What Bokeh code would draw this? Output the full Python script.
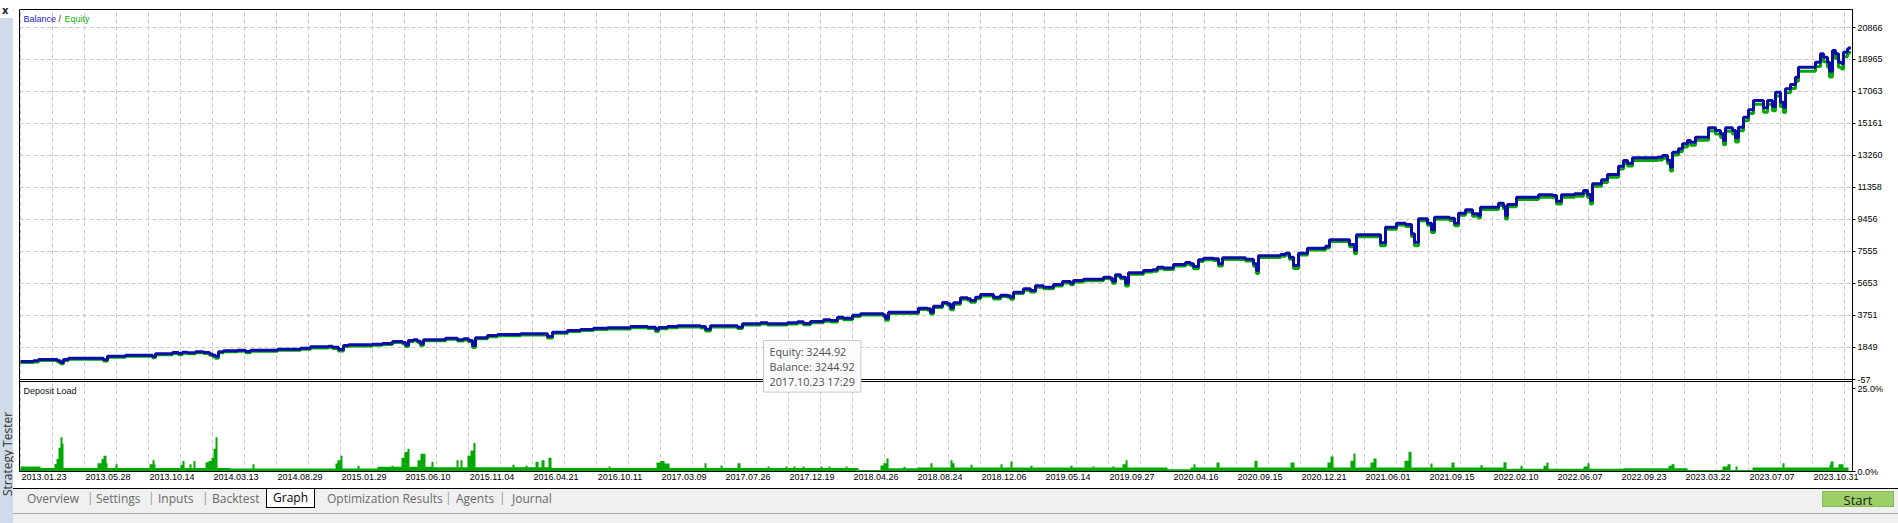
from bokeh.plotting import figure
from bokeh.models import Range1d, FixedTicker, Span, Label, Div
from bokeh.layouts import column, row
from bokeh.embed import file_html
from bokeh.resources import INLINE

# ---------------- data ----------------
date_labels = ["2013.01.23", "2013.05.28", "2013.10.14", "2014.03.13", "2014.08.29",
               "2015.01.29", "2015.06.10", "2015.11.04", "2016.04.21", "2016.10.11",
               "2017.03.09", "2017.07.26", "2017.12.19", "2018.04.26", "2018.08.24",
               "2018.12.06", "2019.05.14", "2019.09.27", "2020.04.16", "2020.09.15",
               "2020.12.21", "2021.06.01", "2021.09.15", "2022.02.10", "2022.06.07",
               "2022.09.23", "2023.03.22", "2023.07.07", "2023.10.31"]

# position along the tester timeline, in units of date-label intervals
t = [0.000, 0.203, 0.281, 0.578, 0.625, 0.672, 0.750, 1.250, 1.297, 1.359,
     1.594, 1.641, 2.031, 2.063, 2.109, 2.375, 2.469, 2.531, 2.609, 2.734,
     2.859, 2.953, 3.000, 3.047, 3.094, 3.172, 3.391, 3.516, 3.594, 3.984,
     4.016, 4.375, 4.531, 4.813, 4.875, 4.969, 5.047, 5.125, 5.500, 5.656,
     5.813, 5.969, 6.016, 6.063, 6.141, 6.203, 6.250, 6.297, 6.641, 6.828,
     6.922, 7.000, 7.063, 7.109, 7.297, 7.453, 7.813, 8.078, 8.234, 8.313,
     8.547, 8.750, 8.953, 9.172, 9.531, 9.797, 9.922, 9.969, 10.109, 10.266,
     10.625, 10.703, 10.781, 11.203, 11.281, 11.563, 11.672, 11.984, 12.141, 12.234,
     12.344, 12.547, 12.656, 12.766, 12.859, 13.000, 13.125, 13.438, 13.484, 13.516,
     13.563, 13.953, 14.031, 14.172, 14.219, 14.266, 14.406, 14.484, 14.531, 14.578,
     14.688, 14.797, 14.844, 14.922, 15.000, 15.156, 15.203, 15.313, 15.422, 15.469,
     15.516, 15.672, 15.781, 15.859, 15.984, 16.141, 16.281, 16.406, 16.453, 16.609,
     16.828, 16.922, 17.031, 17.063, 17.109, 17.188, 17.266, 17.313, 17.500, 17.547,
     17.688, 17.766, 17.859, 18.016, 18.203, 18.281, 18.328, 18.406, 18.484, 18.641,
     18.719, 18.781, 19.141, 19.266, 19.313, 19.344, 19.688, 19.766, 19.828, 19.891,
     19.969, 20.109, 20.391, 20.453, 20.656, 20.766, 20.844, 20.875, 21.156, 21.250,
     21.328, 21.500, 21.641, 21.734, 21.781, 21.844, 21.984, 22.047, 22.094, 22.328,
     22.406, 22.469, 22.578, 22.688, 22.781, 22.813, 23.094, 23.172, 23.203, 23.234,
     23.375, 23.719, 23.938, 24.000, 24.078, 24.281, 24.422, 24.484, 24.531, 24.563,
     24.703, 24.797, 24.891, 24.969, 25.047, 25.109, 25.188, 25.578, 25.656, 25.734,
     25.781, 25.813, 25.906, 25.969, 26.047, 26.094, 26.172, 26.297, 26.375, 26.484,
     26.563, 26.609, 26.641, 26.750, 26.797, 26.844, 26.922, 27.000, 27.078, 27.156,
     27.234, 27.297, 27.375, 27.422, 27.500, 27.547, 27.578, 27.656, 27.734, 27.781,
     28.016, 28.047, 28.125, 28.172, 28.234, 28.266, 28.313, 28.359, 28.406, 28.453,
     28.484, 28.547, 28.578]

balance = [1013, 1055, 1132, 1055, 953, 1132, 1209, 1209, 1114, 1328,
           1328, 1387, 1387, 1310, 1471, 1548, 1488, 1566, 1530, 1589,
           1548, 1459, 1387, 1310, 1589, 1649, 1685, 1607, 1685, 1685,
           1744, 1803, 1887, 1922, 1863, 1726, 1964, 2006, 2041, 2083,
           2202, 2143, 1994, 2261, 2303, 2220, 2065, 2303, 2398, 2303,
           2362, 2261, 1964, 2422, 2558, 2618, 2659, 2659, 2499, 2754,
           2856, 2915, 2992, 3016, 3093, 3053, 2897, 3034, 3093, 3135,
           3093, 2933, 3135, 3053, 3254, 3313, 3254, 3313, 3373, 3272,
           3391, 3492, 3450, 3646, 3587, 3765, 3848, 3848, 3777, 3587,
           3943, 3943, 4181, 4145, 3943, 4300, 4520, 4443, 4205, 4502,
           4799, 4740, 4639, 4835, 4995, 4995, 4835, 4954, 4919, 4835,
           5132, 5334, 5233, 5513, 5429, 5590, 5768, 5667, 5828, 5905,
           5905, 6024, 5964, 5786, 6166, 6024, 5667, 6285, 6285, 6422,
           6464, 6618, 6578, 6779, 6897, 6818, 6660, 7058, 7153, 7114,
           6820, 7177, 7094, 6820, 6422, 7296, 7373, 7450, 7213, 6719,
           7450, 7748, 7866, 8247, 8247, 7967, 7611, 8544, 8544, 8068,
           8996, 9234, 9156, 8604, 8104, 9495, 9234, 8841, 9590, 9531,
           9234, 9828, 10030, 9792, 9691, 10184, 10422, 10226, 9691, 10345,
           10779, 10922, 10880, 10541, 10922, 10981, 11177, 10939, 10583, 11576,
           11814, 12128, 12128, 12622, 12960, 12800, 13121, 13157, 13258, 12960,
           12562, 13454, 13656, 13953, 14149, 14050, 14345, 14345, 14904, 14744,
           14547, 14149, 14904, 14744, 14310, 14940, 15534, 15974, 16527, 16527,
           16093, 16527, 16170, 17020, 16426, 16128, 17222, 17478, 17912, 18506,
           18506, 18803, 19303, 19100, 18803, 18269, 19499, 19303, 18803, 18708,
           19398, 19600, 19737]

equity = [950, 990, 1070, 990, 880, 1070, 1150, 1150, 1040, 1270,
          1270, 1330, 1330, 1230, 1410, 1490, 1420, 1510, 1470, 1530,
          1490, 1390, 1310, 1210, 1530, 1590, 1620, 1540, 1620, 1620,
          1680, 1740, 1820, 1860, 1790, 1640, 1900, 1940, 1980, 2020,
          2140, 2070, 1910, 2200, 2240, 2150, 1970, 2240, 2330, 2230,
          2290, 2180, 1850, 2360, 2490, 2550, 2590, 2590, 2410, 2690,
          2790, 2850, 2920, 2950, 3020, 2980, 2800, 2960, 3020, 3060,
          3010, 2830, 3060, 2970, 3180, 3240, 3180, 3240, 3300, 3190,
          3310, 3410, 3360, 3570, 3500, 3690, 3770, 3770, 3690, 3470,
          3860, 3860, 4100, 4060, 3830, 4220, 4440, 4350, 4090, 4420,
          4720, 4650, 4530, 4750, 4910, 4910, 4730, 4870, 4830, 4720,
          5050, 5250, 5140, 5430, 5340, 5500, 5680, 5570, 5740, 5820,
          5820, 5940, 5870, 5660, 6080, 5930, 5500, 6200, 6200, 6330,
          6370, 6530, 6480, 6690, 6800, 6720, 6530, 6960, 7060, 7010,
          6690, 7080, 6990, 6680, 6240, 7200, 7270, 7350, 7090, 6540,
          7350, 7640, 7760, 8140, 8140, 7840, 7420, 8430, 8430, 7900,
          8880, 9120, 9030, 8450, 7900, 9380, 9110, 8680, 9470, 9400,
          9080, 9700, 9900, 9650, 9540, 10050, 10290, 10080, 9480, 10210,
          10640, 10780, 10740, 10370, 10780, 10840, 11030, 10780, 10380, 11430,
          11660, 11970, 11970, 12460, 12800, 12630, 12960, 12990, 13090, 12780,
          12330, 13280, 13480, 13770, 13970, 13860, 14160, 14160, 14710, 14540,
          14330, 13900, 14700, 14530, 14060, 14730, 15320, 15760, 16310, 16310,
          15830, 16300, 15920, 16790, 16150, 15820, 16990, 17240, 17670, 18260,
          18260, 18550, 19050, 18830, 18520, 17920, 19240, 19030, 18500, 18400,
          19130, 19330, 19470]

load_t = [0.000, 0.313, 0.531, 0.563, 0.594, 0.625, 0.656, 0.672, 1.203, 1.266,
          1.297, 1.344, 1.359, 1.484, 1.516, 2.016, 2.063, 2.094, 2.109, 2.500,
          2.531, 2.563, 2.641, 2.672, 2.703, 2.734, 2.891, 2.938, 2.984, 3.016,
          3.047, 3.078, 3.281, 3.625, 3.656, 4.922, 4.953, 5.000, 5.031, 5.266,
          5.297, 5.578, 5.797, 5.828, 5.953, 6.000, 6.047, 6.078, 6.203, 6.250,
          6.328, 6.422, 6.453, 6.813, 6.844, 6.875, 6.906, 6.984, 7.031, 7.078,
          7.109, 7.688, 7.719, 7.891, 7.922, 8.047, 8.094, 8.141, 8.188, 8.250,
          8.297, 9.188, 9.219, 9.938, 10.000, 10.063, 10.141, 10.688, 10.719, 10.938,
          10.969, 11.203, 11.250, 11.672, 11.703, 11.953, 11.984, 12.078, 12.109, 12.219,
          12.250, 12.500, 12.531, 12.625, 12.656, 12.891, 12.922, 13.094, 13.438, 13.484,
          13.531, 13.563, 13.797, 13.828, 14.016, 14.219, 14.250, 14.531, 14.563, 14.594,
          14.844, 14.875, 15.313, 15.344, 15.469, 15.500, 15.781, 15.813, 16.406, 16.438,
          16.750, 16.781, 17.063, 17.094, 17.219, 17.266, 17.297, 17.922, 18.281, 18.328,
          18.359, 18.688, 18.734, 19.281, 19.328, 19.844, 19.906, 20.422, 20.469, 20.516,
          20.781, 20.828, 20.859, 21.094, 21.141, 21.188, 21.625, 21.688, 21.734, 22.031,
          22.063, 22.359, 22.406, 22.813, 22.844, 23.172, 23.219, 23.438, 23.469, 23.797,
          23.844, 23.875, 24.422, 24.484, 24.516, 25.047, 25.750, 25.797, 25.844, 26.047,
          26.594, 26.672, 26.719, 26.797, 26.828, 27.063, 27.531, 27.563, 28.266, 28.281,
          28.328, 28.406, 28.484, 28.563]

load_pct = [1.4, 1.0, 2.1, 3.5, 6.6, 9.5, 7.7, 1.0, 2.3, 3.5,
            4.4, 2.3, 1.0, 2.0, 1.0, 2.0, 3.1, 2.0, 1.0, 1.9,
            2.9, 1.0, 2.0, 1.0, 2.9, 1.0, 2.6, 2.9, 3.8, 6.3,
            9.5, 1.0, 0.8, 2.0, 0.8, 2.2, 3.1, 4.4, 0.8, 1.6,
            0.8, 1.3, 1.6, 1.3, 3.8, 5.4, 6.3, 1.3, 3.1, 4.9,
            1.3, 2.7, 1.2, 3.1, 1.2, 3.1, 1.2, 4.4, 5.8, 7.9,
            1.2, 1.9, 1.2, 1.6, 1.2, 2.7, 1.2, 3.1, 1.2, 3.8,
            1.0, 1.4, 1.0, 2.5, 2.9, 2.2, 1.0, 2.3, 1.0, 1.7,
            1.0, 2.3, 1.0, 1.4, 1.0, 1.4, 1.0, 1.4, 1.0, 1.4,
            1.0, 1.4, 1.0, 1.4, 1.0, 1.4, 1.0, 0.4, 1.7, 2.3,
            3.6, 0.9, 1.3, 0.9, 1.1, 2.3, 1.1, 3.1, 2.3, 1.1,
            1.9, 1.1, 2.0, 1.1, 2.8, 1.1, 1.6, 1.1, 1.6, 1.1,
            1.4, 1.1, 1.4, 1.1, 2.0, 3.1, 1.1, 0.6, 1.1, 2.0,
            1.1, 2.5, 1.1, 3.0, 1.1, 2.5, 1.1, 2.5, 4.2, 1.1,
            3.0, 5.0, 1.1, 2.5, 3.6, 1.1, 3.0, 5.5, 1.1, 2.2,
            1.1, 2.5, 1.1, 1.8, 1.1, 2.6, 0.75, 1.6, 0.75, 1.6,
            2.5, 0.75, 1.4, 2.3, 0.75, 0.9, 1.6, 2.0, 0.9, 0.4,
            1.4, 2.0, 0.4, 1.4, 0.4, 1.1, 2.3, 1.1, 1.9, 2.8,
            1.1, 2.0, 1.1, 0.0]

y_ticks = [-57, 1849, 3751, 5653, 7555, 9456, 11358, 13260, 15161, 17063, 18965, 20866]
load_labels = ["25.0%", "0.0%"]

tip_equity = "3244.92"
tip_balance = "3244.92"
tip_time = "2017.10.23 17:29"

tab_names = ["Overview", "Settings", "Inputs", "Backtest", "Graph",
             "Optimization Results", "Agents", "Journal"]

# ---------------- styling ----------------
BLUE = "#0c0ca8"
GREEN = "#00a800"
GRID = "#c8c8c8"
FONT = "Liberation Sans"

# value per pixel of the balance scale; frame = 370 px balance panel + 92 px below it
px_val = (y_ticks[-1] - y_ticks[0]) / 352.0
y_hi = y_ticks[0] + 370 * px_val
y_lo = y_ticks[0] - 92 * px_val
load_top = 25.0 * 462.0 / 90.0
sep_a = y_ticks[0]
sep_b = y_ticks[0] - 2 * px_val
pct25_pos = y_ticks[0] - 9 * px_val
pct0_pos = y_lo

p = figure(width=1885, height=485, output_backend="svg", toolbar_location=None,
           x_range=Range1d(-1 / 64.0, 28.625), y_range=Range1d(y_lo, y_hi),
           y_axis_location="right", min_border_left=6, min_border_right=46,
           min_border_top=6, min_border_bottom=17)
p.extra_y_ranges = {"load": Range1d(0, load_top)}

p.outline_line_color = "black"
p.outline_line_width = 1
p.background_fill_color = "white"
p.border_fill_color = "white"

# grid
p.xgrid.ticker = FixedTicker(ticks=[i * 0.5 for i in range(58)])
p.ygrid.ticker = FixedTicker(ticks=y_ticks)
for g in (p.xgrid, p.ygrid):
    g.grid_line_color = GRID
    g.grid_line_dash = "4 3"
    g.grid_line_width = 1

# x axis: date labels start at their grid line (label centre shifted right)
shift = 0.367
x_tick_pos = [i + shift for i in range(len(date_labels))]
xa = p.xaxis[0]
xa.ticker = FixedTicker(ticks=x_tick_pos)
xa.major_label_overrides = {pos: lab for pos, lab in zip(x_tick_pos, date_labels)}
xa.major_label_text_font = FONT
xa.major_label_text_font_size = "9px"
xa.major_label_text_color = "#000000"
xa.major_label_standoff = 2
xa.major_tick_out = 0
xa.major_tick_in = 0
xa.minor_tick_out = 0
xa.minor_tick_in = 0
xa.axis_line_color = "black"

# right axis: balance ticks + deposit-load percent labels
ya = p.yaxis[0]
ya.ticker = FixedTicker(ticks=y_ticks + [pct25_pos, pct0_pos])
overrides = {v: str(v) for v in y_ticks}
overrides[pct25_pos] = load_labels[0]
overrides[pct0_pos] = load_labels[1]
ya.major_label_overrides = overrides
ya.major_label_text_font = FONT
ya.major_label_text_font_size = "9px"
ya.major_label_text_color = "#000000"
ya.major_label_standoff = 2
ya.major_tick_out = 3
ya.major_tick_in = 0
ya.minor_tick_out = 0
ya.minor_tick_in = 0
ya.axis_line_color = "black"

# deposit load
p.varea_step(x=load_t, y1=[0] * len(load_t), y2=load_pct, step_mode="after",
             fill_color=GREEN, y_range_name="load")

# equity and balance
p.step(t, equity, mode="after", line_color=GREEN, line_width=3)
p.step(t, balance, mode="after", line_color=BLUE, line_width=3)

# panel separators
p.add_layout(Span(location=sep_a, dimension="width", line_color="black", line_width=1))
p.add_layout(Span(location=sep_b, dimension="width", line_color="black", line_width=1))

# titles
p.add_layout(Label(x=4, y=453, x_units="screen", y_units="screen", text="Balance",
                   text_font=FONT, text_font_size="9px", text_color="#2222c8",
                   text_baseline="middle"))
p.add_layout(Label(x=39, y=453, x_units="screen", y_units="screen", text="/",
                   text_font=FONT, text_font_size="9px", text_color="#303030",
                   text_baseline="middle"))
p.add_layout(Label(x=45, y=453, x_units="screen", y_units="screen", text="Equity",
                   text_font=FONT, text_font_size="9px", text_color="#10b010",
                   text_baseline="middle"))
p.add_layout(Label(x=4, y=81, x_units="screen", y_units="screen", text="Deposit Load",
                   text_font=FONT, text_font_size="9px", text_color="#101010",
                   text_baseline="middle"))

# hover tooltip box
tip = "Equity: %s\nBalance: %s\n%s" % (tip_equity, tip_balance, tip_time)
p.add_layout(Label(x=744, y=131, x_units="screen", y_units="screen", text=tip,
                   text_font="Open Sans", text_font_size="10.8px", text_color="#505050",
                   text_baseline="top", text_align="left", text_line_height=1.02,
                   background_fill_color="#fbfbfb", border_line_color="#c8c8c8",
                   padding=dict(left=6, right=6, top=3, bottom=3)))

# ---------------- window chrome (tab bar, side strip) ----------------
tab_left = [14, 83, 145, 199, 253, 314, 443, 499]
sep_left = [74, 135, 189, 432, 486]
parts = []
for name, left in zip(tab_names, tab_left):
    if name == "Graph":
        parts.append('<div style="position:absolute;left:%dpx;top:-1px;width:49px;height:20px;'
                     'background:#ffffff;border:1px solid #000;border-top:none;color:#000;'
                     'text-align:center;line-height:19px;">%s</div>' % (left, name))
    else:
        parts.append('<span style="position:absolute;left:%dpx;top:2px;">%s</span>' % (left, name))
for left in sep_left:
    parts.append('<span style="position:absolute;left:%dpx;top:1px;color:#9a9a9a;">|</span>' % left)
parts.append('<div style="position:absolute;left:1809px;top:2px;width:72px;height:16px;'
             'background:#9ccf65;border:1px solid #86b956;color:#202020;text-align:center;'
             'font-size:13px;line-height:16px;">Start</div>')
parts.append('<div style="position:absolute;left:0px;top:24px;width:1885px;height:1px;background:#a8a8a8;"></div>')
tab_html = ('<div style="position:relative;width:1885px;height:35px;background:#f0f0f0;'
            'border-top:1px solid #000;box-sizing:border-box;font-family:\'Open Sans\';'
            'font-size:12px;color:#6a6a6a;line-height:16px;overflow:hidden;">' + "".join(parts) + '</div>')
tab_bar = Div(text=tab_html, width=1885, height=35, margin=0)

strip_html = ('<div style="position:relative;width:13px;height:520px;background:#ffffff;">'
              '<div style="position:absolute;left:2px;top:1px;font-weight:bold;font-size:10px;'
              'font-family:\'DejaVu Sans\';color:#222;">x</div>'
              '<div style="position:absolute;left:0px;top:15px;width:13px;height:505px;background:#cfdbe8;"></div>'
              '<div style="position:absolute;left:2px;top:395px;width:11px;height:112px;'
              'writing-mode:vertical-rl;transform:rotate(180deg);font-size:12px;'
              'font-family:\'Open Sans\';color:#333;line-height:11px;white-space:nowrap;'
              'text-align:center;">Strategy Tester</div></div>')
strip = Div(text=strip_html, width=13, height=520, margin=0)

top_bar = Div(text='<div style="width:1898px;height:3px;background:#dcdcdc;"></div>',
              width=1898, height=3, margin=0)

layout = column(top_bar, row(strip, column(p, tab_bar, spacing=0), spacing=0), spacing=0)
open("out.html", "w").write(file_html(layout, INLINE))
